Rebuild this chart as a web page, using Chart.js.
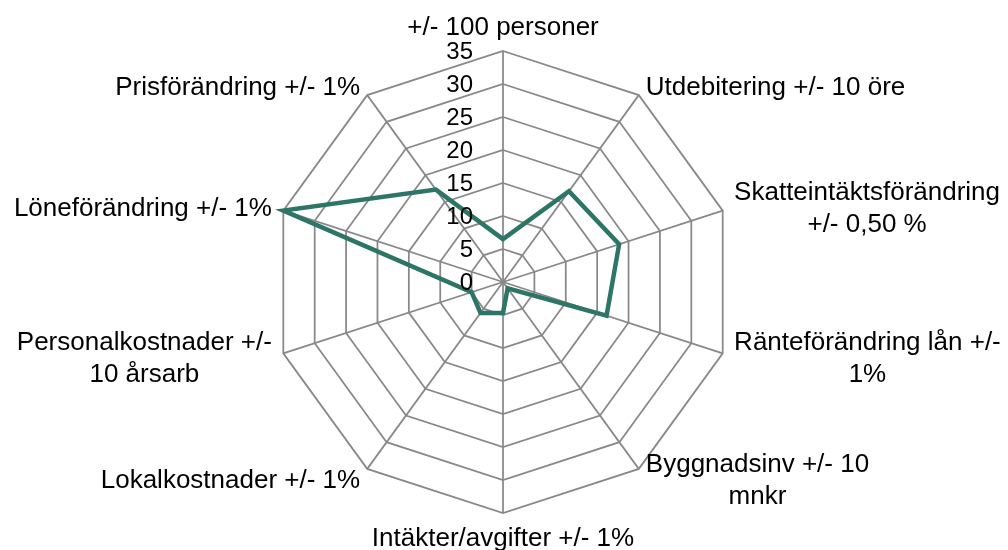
<!DOCTYPE html>
<html>
<head>
<meta charset="utf-8">
<script src="https://cdn.jsdelivr.net/npm/chart.js@4"></script>
<style>
  body { margin: 0; background: #fff; }
  #wrap { width: 1008px; height: 550px; }
</style>
</head>
<body>
<div id="wrap"><canvas id="radar"></canvas></div>
<script>
const labels = [
  "+/- 100 personer",
  "Utdebitering +/- 10 öre",
  ["Skatteintäktsförändring", "+/- 0,50 %"],
  ["Ränteförändring lån +/-", "1%"],
  ["Byggnadsinv +/- 10", "mnkr"],
  "Intäkter/avgifter +/- 1%",
  "Lokalkostnader +/- 1%",
  ["Personalkostnader +/-", "10 årsarb"],
  "Löneförändring +/- 1%",
  "Prisförändring +/- 1%"
];
const values = [6.5, 17, 18.5, 16.5, 1.2, 4.7, 5.8, 5, 35, 17.3];
const tickValues = [0, 5, 10, 15, 20, 25, 30, 35];

const fontFamily = "'Liberation Sans', Arial, sans-serif";
const labelSize = 26;
const lineGap = 32;

// tick numbers sit left of the vertical axis like in the original
const leftTicks = {
  id: "leftTicks",
  afterDatasetsDraw(chart) {
    const scale = chart.scales.r;
    const ctx = chart.ctx;
    ctx.save();
    ctx.fillStyle = "#000";
    ctx.font = "24px " + fontFamily;
    ctx.textAlign = "right";
    ctx.textBaseline = "middle";
    tickValues.forEach(v => {
      const d = scale.getDistanceFromCenterForValue(v);
      ctx.fillText(String(v), scale.xCenter - 30, scale.yCenter - d + 1);
    });
    ctx.restore();
  }
};

// category labels, multi-line ones centred on themselves (Excel style)
const axisLabels = {
  id: "axisLabels",
  afterDraw(chart) {
    const scale = chart.scales.r;
    const ctx = chart.ctx;
    ctx.save();
    ctx.fillStyle = "#000";
    ctx.font = labelSize + "px " + fontFamily;
    ctx.textAlign = "center";
    ctx.textBaseline = "alphabetic";
    const capHalf = labelSize * 0.716 / 2;
    labels.forEach((lab, i) => {
      const lines = Array.isArray(lab) ? lab : [lab];
      const pos = scale.getPointPosition(i, scale.drawingArea + 12);
      const w = Math.max(...lines.map(t => ctx.measureText(t).width));
      let cx = pos.x;
      if (pos.x > scale.xCenter + 2) cx = pos.x + w / 2;
      else if (pos.x < scale.xCenter - 2) cx = pos.x - w / 2;
      let y0;
      if (Math.abs(pos.x - scale.xCenter) <= 2 && pos.y < scale.yCenter) {
        y0 = pos.y - 4 - (lines.length - 1) * lineGap;
      } else if (Math.abs(pos.x - scale.xCenter) <= 2) {
        y0 = pos.y + 21;
      } else {
        y0 = pos.y - (lines.length - 1) * lineGap / 2 + capHalf;
      }
      lines.forEach((t, k) => ctx.fillText(t, cx, y0 + k * lineGap));
    });
    ctx.restore();
  }
};

new Chart(document.getElementById("radar"), {
  type: "radar",
  data: {
    labels: labels,
    datasets: [{
      data: values,
      borderColor: "#2D7566",
      borderWidth: 4.5,
      fill: false,
      pointRadius: 0,
      tension: 0
    }]
  },
  options: {
    responsive: true,
    maintainAspectRatio: false,
    animation: false,
    layout: { padding: { left: 0, right: 2, top: 51, bottom: 37 } },
    plugins: {
      legend: { display: false },
      tooltip: { enabled: false }
    },
    scales: {
      r: {
        min: 0,
        max: 35,
        ticks: { stepSize: 5, display: false },
        grid: { color: "#888888", lineWidth: 1.75 },
        angleLines: { color: "#888888", lineWidth: 1.75 },
        pointLabels: { display: false }
      }
    }
  },
  plugins: [leftTicks, axisLabels]
});
</script>
</body>
</html>
